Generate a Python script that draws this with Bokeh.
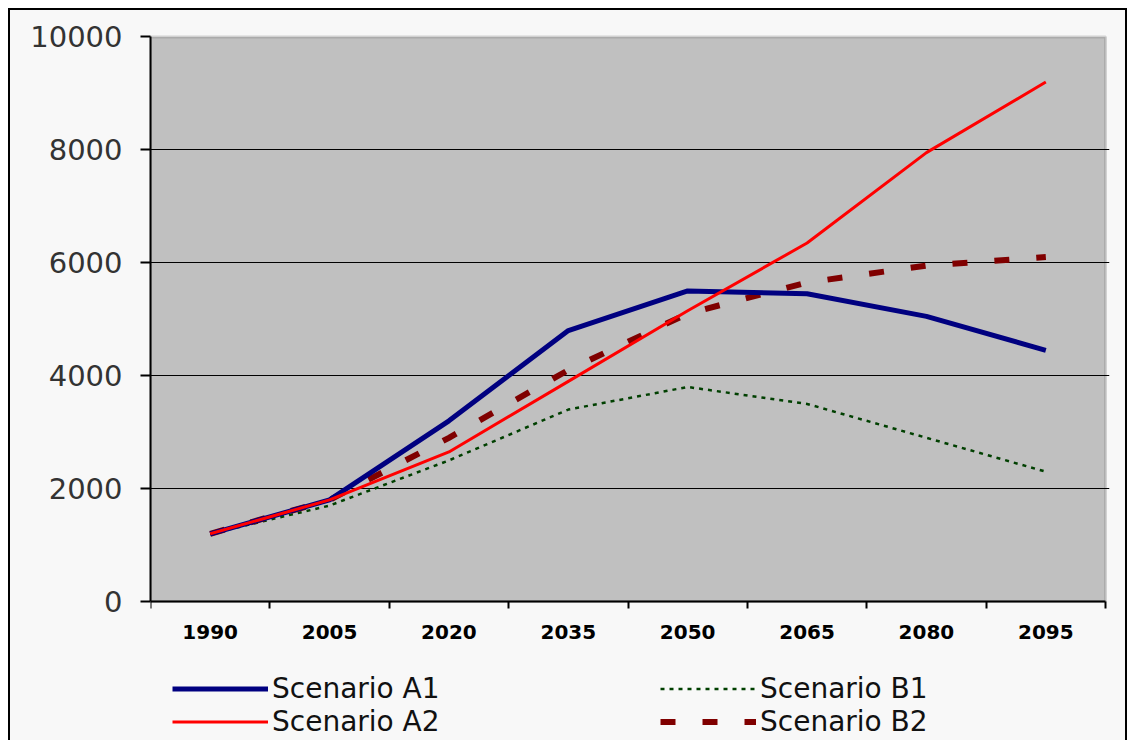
from bokeh.plotting import figure
from bokeh.models import (ColumnDataSource, FixedTicker, Legend, LegendItem,
                          BoxAnnotation)
from bokeh.embed import file_html
from bokeh.resources import INLINE

# Projected values per scenario, every 15 years
years = [1990, 2005, 2020, 2035, 2050, 2065, 2080, 2095]
scenario_a1 = [1200, 1800, 3200, 4800, 5500, 5450, 5050, 4450]
scenario_a2 = [1200, 1800, 2650, 3900, 5150, 6350, 7950, 9200]
scenario_b1 = [1200, 1700, 2500, 3400, 3800, 3500, 2900, 2300]
scenario_b2 = [1200, 1800, 2900, 4100, 5100, 5650, 5950, 6100]
y_ticks = [0, 2000, 4000, 6000, 8000, 10000]

step = years[1] - years[0]
x_start = years[0] - step / 2
x_end = years[-1] + step / 2
boundaries = [x_start + step * i for i in range(len(years) + 1)]

# the frame runs down to the bottom of the page, so the value axis
# starts below zero to leave room for the year labels and the legend
y_low = -2496
y_high = 10060

src = ColumnDataSource(dict(year=years, a1=scenario_a1, a2=scenario_a2,
                            b1=scenario_b1, b2=scenario_b2))

p = figure(width=1119, height=732, output_backend="svg", toolbar_location=None,
           x_range=(x_start, x_end + 0.5), y_range=(y_low, y_high),
           min_border_left=140, min_border_right=20,
           min_border_top=23, min_border_bottom=0)
p.margin = (8, 0, 0, 8)
p.styles = {"border-left": "2px solid black",
            "border-top": "2px solid black",
            "border-right": "2px solid black",
            "background-color": "#f8f8f8"}

p.border_fill_color = "#f8f8f8"
p.background_fill_color = "#f8f8f8"
p.outline_line_color = None

# grey plotting area above the zero line
area = BoxAnnotation(left=x_start, right=x_end, bottom=0, top=10000,
                     fill_color="#c0c0c0", fill_alpha=1.0,
                     line_color="#7a7a7a", line_width=3, level="image")
p.add_layout(area)

# grid
p.xgrid.visible = False
p.ygrid.ticker = FixedTicker(ticks=y_ticks[1:-1])
p.ygrid.bounds = (x_start, x_end)
p.ygrid.grid_line_color = "black"
p.ygrid.grid_line_width = 1

# y axis
p.yaxis.ticker = FixedTicker(ticks=y_ticks)
p.yaxis.bounds = (0, 10000)
p.yaxis.axis_line_color = "black"
p.yaxis.axis_line_width = 2
p.yaxis.major_tick_out = 10
p.yaxis.major_tick_in = 0
p.yaxis.minor_tick_out = 0
p.yaxis.minor_tick_in = 0
p.yaxis.major_tick_line_color = "black"
p.yaxis.major_tick_line_width = 2
p.yaxis.major_label_standoff = 18
p.yaxis.major_label_text_font = "DejaVu Sans"
p.yaxis.major_label_text_font_size = "29px"
p.yaxis.major_label_text_color = "#333333"

# x axis on the zero line: labels at the years, tick marks between them
p.xaxis.fixed_location = 0
p.xaxis.bounds = (x_start, x_end)
p.xaxis.ticker = FixedTicker(ticks=years, minor_ticks=boundaries)
p.xaxis.axis_line_color = "black"
p.xaxis.axis_line_width = 2
p.xaxis.major_tick_out = 0
p.xaxis.major_tick_in = 0
p.xaxis.minor_tick_out = 7
p.xaxis.minor_tick_in = 0
p.xaxis.minor_tick_line_color = "black"
p.xaxis.minor_tick_line_width = 2
p.xaxis.major_label_standoff = 16
p.xaxis.major_label_overrides = {y: str(y) for y in years}
p.xaxis.major_label_text_font = "DejaVu Sans"
p.xaxis.major_label_text_font_style = "bold"
p.xaxis.major_label_text_font_size = "20px"
p.xaxis.major_label_text_color = "black"

r_b1 = p.line("year", "b1", source=src, line_color="#004000", line_width=2.5,
              line_dash="4 5")
r_b2 = p.line("year", "b2", source=src, line_color="#800000", line_width=6,
              line_dash="15 27")
r_a1 = p.line("year", "a1", source=src, line_color="#000080", line_width=5)
r_a2 = p.line("year", "a2", source=src, line_color="#ff0000", line_width=3)


def make_legend(items, x, y):
    return Legend(items=items, location=(x, y), orientation="vertical",
                  margin=0, padding=0, spacing=0,
                  glyph_width=96, glyph_height=33, label_height=33,
                  label_standoff=4,
                  label_text_font="DejaVu Sans", label_text_font_size="28px",
                  label_text_color="#111111",
                  border_line_alpha=0, background_fill_alpha=0)


leg1 = make_legend([LegendItem(label="Scenario A1", renderers=[r_a1]),
                    LegendItem(label="Scenario A2", renderers=[r_a2])],
                   22, 4)
leg2 = make_legend([LegendItem(label="Scenario B1", renderers=[r_b1]),
                    LegendItem(label="Scenario B2", renderers=[r_b2])],
                   510, 4)
p.add_layout(leg1)
p.add_layout(leg2)

open("out.html", "w").write(file_html(p, INLINE))
